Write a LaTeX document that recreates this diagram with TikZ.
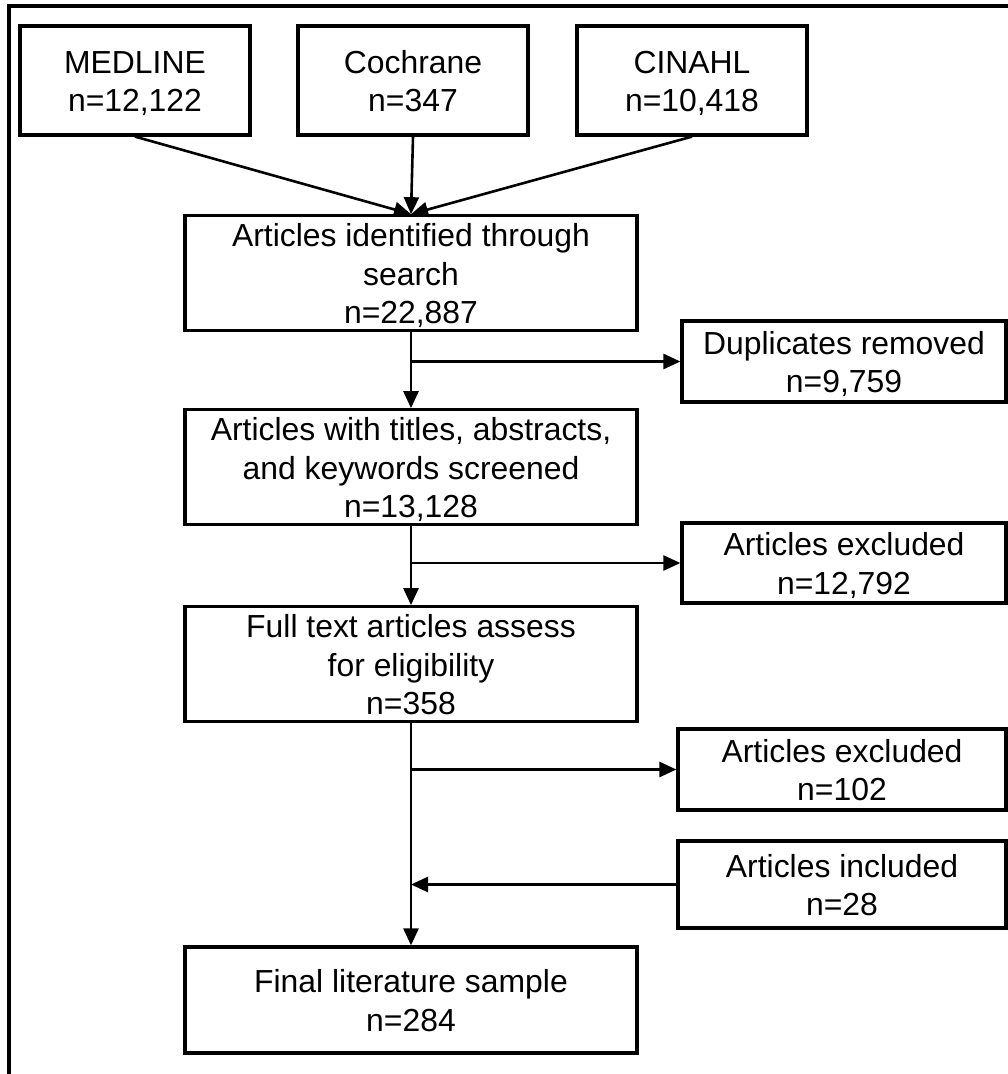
\documentclass[tikz,border=0pt]{standalone}
\usepackage{fontspec}
\setmainfont{Liberation Sans}
\usetikzlibrary{arrows.meta}
\newcommand{\mystrut}{\rule[-6.75bp]{0pt}{37.5bp}}
\begin{document}
\begin{tikzpicture}[x=1bp,y=-1bp,
  box/.style={draw, line width=3.2bp, rectangle, inner sep=0pt, align=center,
    font=\fontsize{32}{37.5}\selectfont},
  conn/.style={line width=2.6bp},
  arr/.style={conn, -{Triangle[length=17bp,width=15bp]}}]
\useasboundingbox (0,0) rectangle (1008,1074);
\draw[line width=3.2bp] (9,1074) -- (9,6) -- (1008,6);
% sources
\node[box, minimum width=230bp, minimum height=109bp] (medline) at (135,80.5) {\mystrut MEDLINE\\\mystrut n=12,122};
\node[box, minimum width=230bp, minimum height=109bp] (cochrane) at (413,80.5) {\mystrut Cochrane\\\mystrut n=347};
\node[box, minimum width=230bp, minimum height=109bp] (cinahl) at (692,80.5) {\mystrut CINAHL\\\mystrut n=10,418};
% main column
\node[box, minimum width=452bp, minimum height=108bp] (idf) at (411,273) {\mystrut Articles identified through\\\mystrut search\\\mystrut n=22,887};
\node[box, minimum width=452bp, minimum height=108bp] (titles) at (411,467) {\mystrut Articles with titles, abstracts,\\\mystrut and keywords screened\\\mystrut n=13,128};
\node[box, minimum width=452bp, minimum height=108bp] (full) at (411,664) {\mystrut Full text articles assess\\\mystrut for eligibility\\\mystrut n=358};
\node[box, minimum width=452bp, minimum height=106bp] (final) at (411,1000) {\mystrut Final literature sample\\\mystrut n=284};
% side boxes
\node[box, minimum width=324bp, minimum height=81bp] (dup) at (844,361.5) {\mystrut Duplicates removed\\\mystrut n=9,759};
\node[box, minimum width=324bp, minimum height=80bp] (excl1) at (844,563) {\mystrut Articles excluded\\\mystrut n=12,792};
\node[box, minimum width=328bp, minimum height=81bp] (excl2) at (842,769.5) {\mystrut Articles excluded\\\mystrut n=102};
\node[box, minimum width=328bp, minimum height=87bp] (incl) at (842,884.5) {\mystrut Articles included\\\mystrut n=28};
% junctions
\coordinate (j1) at (411,361.5);
\coordinate (j2) at (411,563);
\coordinate (j3) at (411,769.5);
\coordinate (j4) at (411,884.5);
% connectors
\draw[arr] (medline.south) -- (idf.north);
\draw[arr] (cochrane.south) -- (idf.north);
\draw[arr] (cinahl.south) -- (idf.north);
\draw[arr] (idf.south) -- (titles.north);
\draw[arr] (j1) -- (dup.west);
\draw[arr] (titles.south) -- (full.north);
\draw[arr] (j2) -- (excl1.west);
\draw[arr] (full.south) -- (final.north);
\draw[arr] (j3) -- (excl2.west);
\draw[arr] (incl.west) -- (j4);
\end{tikzpicture}
\end{document}
